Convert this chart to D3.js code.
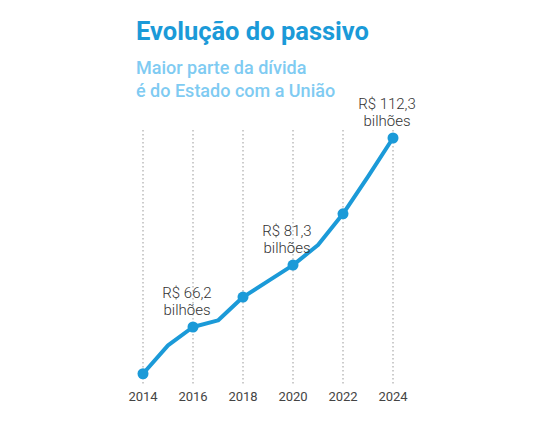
<!DOCTYPE html>
<html><head><meta charset="utf-8">
<script src="https://cdn.jsdelivr.net/npm/d3@7"></script>
<style>body{margin:0;background:#fff}</style></head>
<body><svg id="c" width="536" height="430"></svg>
<script>
const years=[2014,2015,2016,2017,2018,2019,2020,2021,2022,2023,2024];
const values=[54.8,61.7,66.2,67.8,73.5,77.4,81.3,86.2,93.8,102.9,112.3];
const tickYears=[2014,2016,2018,2020,2022,2024];
const markedYears=[2014,2016,2018,2020,2022,2024];
const labels=[{year:2016,lines:["R$ 66,2","bilhões"]},{year:2020,lines:["R$ 81,3","bilhões"]},{year:2024,lines:["R$ 112,3","bilhões"]}];
const svg=d3.select("#c");
const x=d3.scaleLinear().domain([2014,2024]).range([143,393]);
const y=d3.scaleLinear().domain([66.2,112.3]).range([327,138]);
const blue="#1b9ad8";
svg.append("text").attr("x",136).attr("y",40).attr("font-family","Roboto").attr("font-weight",700).attr("font-size",25.5).attr("fill",blue).text("Evolução do passivo");
svg.append("text").attr("x",136).attr("y",74).attr("font-family","Roboto").attr("font-weight",500).attr("font-size",18).attr("fill","#7fcbf2").text("Maior parte da dívida");
svg.append("text").attr("x",136).attr("y",97).attr("font-family","Roboto").attr("font-weight",500).attr("font-size",18).attr("fill","#7fcbf2").text("é do Estado com a União");
svg.selectAll(".g").data(tickYears).join("line").attr("x1",d=>x(d)).attr("x2",d=>x(d)).attr("y1",130).attr("y2",384).attr("stroke","#999").attr("stroke-dasharray","1.5,2.5");
svg.selectAll(".t").data(tickYears).join("text").attr("x",d=>x(d)).attr("y",401).attr("text-anchor","middle").attr("font-family","Roboto").attr("font-size",13).attr("fill","#444").text(d=>d);
const pts=years.map((yr,i)=>[x(yr),y(values[i])]);
svg.append("path").attr("d",d3.line()(pts)).attr("fill","none").attr("stroke",blue).attr("stroke-width",4).attr("stroke-linejoin","round");
svg.selectAll(".p").data(markedYears).join("circle").attr("cx",d=>x(d)).attr("cy",d=>y(values[years.indexOf(d)])).attr("r",5.5).attr("fill",blue);
labels.forEach(l=>{const cx=x(l.year),cy=y(values[years.indexOf(l.year)]);
 l.lines.forEach((t,i)=>svg.append("text").attr("x",cx-6).attr("y",cy-29+i*17).attr("text-anchor","middle").attr("font-family","Roboto").attr("font-weight",300).attr("font-size",15).attr("fill","#333").text(t));});
</script></body></html>
